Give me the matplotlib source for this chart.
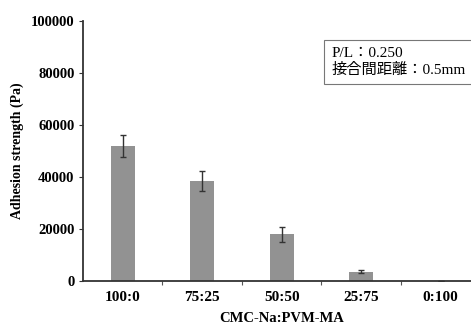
import matplotlib
matplotlib.use("Agg")
import matplotlib.pyplot as plt
import numpy as np

categories = ["100:0", "75:25", "50:50", "25:75", "0:100"]
values = [52000, 38500, 18000, 3600, 0]
errors = [4200, 3800, 2900, 700, 0]
yticks = [0, 20000, 40000, 60000, 80000, 100000]

plt.rcParams['font.family'] = ['Liberation Serif', 'Noto Sans CJK JP']

fig = plt.figure(figsize=(4.71, 3.24), dpi=100)
ax = fig.add_axes([0.176, 0.133, 0.844, 0.802])
x = np.arange(len(categories))
ax.bar(x, values, width=0.3, color='#929292', zorder=2)
ax.errorbar(x, values, yerr=errors, fmt='none', ecolor='#333333', elinewidth=1, capsize=2.5, capthick=1, zorder=3)

ax.set_xlim(-0.5, 4.5)
ax.set_ylim(0, 100000)
ax.set_yticks(yticks)
ax.set_yticklabels([str(v) for v in yticks], fontweight='bold', fontsize=10.5)
ax.set_xticks(x)
ax.set_xticklabels(categories, fontweight='bold', fontsize=11)
ax.tick_params(axis='x', length=0, pad=7)
ax.set_xticks(np.arange(0.5, 4.5, 1), minor=True)
ax.tick_params(axis='x', which='minor', length=3, width=0.8, direction='out', color='#555555')
ax.tick_params(axis='y', length=3, width=0.8, direction='out', color='#333333', pad=3)

for s in ['top', 'right']:
    ax.spines[s].set_visible(False)
for s in ['left', 'bottom']:
    ax.spines[s].set_linewidth(1.3)
    ax.spines[s].set_color('#333333')

ax.set_ylabel('Adhesion strength (Pa)', fontweight='bold', fontsize=10, labelpad=5)
ax.set_xlabel('CMC-Na:PVM-MA', fontweight='bold', fontsize=10.5, labelpad=6)

fig.text(0.703, 0.809, 'P/L：0.250\n接合間距離：0.5mm', fontsize=11, va='center', ha='left',
         linespacing=1.25,
         bbox=dict(boxstyle='square,pad=0.45', facecolor='white', edgecolor='#777777', linewidth=0.8))

fig.savefig('out.png', dpi=100)
